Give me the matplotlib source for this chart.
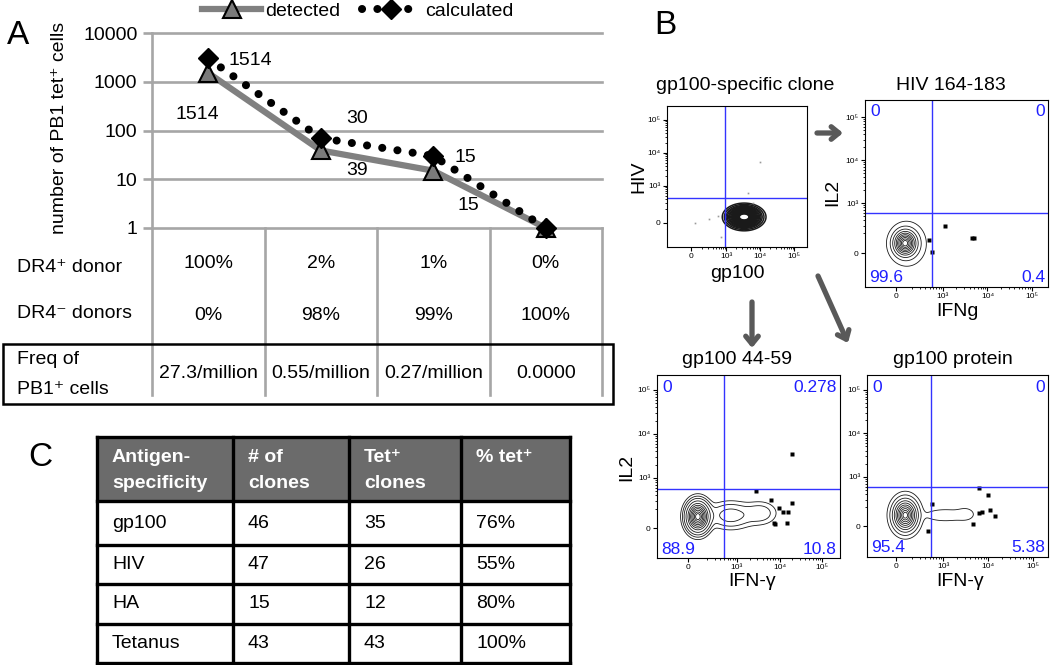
import numpy as np
import matplotlib
matplotlib.use('Agg')
import matplotlib.pyplot as plt
from matplotlib import transforms
from matplotlib.patches import Rectangle

plt.rcParams['font.family'] = ['Liberation Sans', 'DejaVu Sans']

# ---------------- Panel A data ----------------
categories = ['group 1', 'group 2', 'group 3', 'group 4']
detected = [1514, 39, 15, 1]
calculated = [3000, 70, 30, 1]
detected_labels = ['1514', '39', '15']
calculated_labels = ['1514', '30', '15']
y_ticks = [1, 10, 100, 1000, 10000]
y_ticklabels = ['1', '10', '100', '1000', '10000']
dr4_pos = ['100%', '2%', '1%', '0%']
dr4_neg = ['0%', '98%', '99%', '100%']
freq_pb1 = ['27.3/million', '0.55/million', '0.27/million', '0.0000']

# ---------------- Panel B data ----------------
flow_titles = ['gp100-specific clone', 'HIV 164-183', 'gp100 44-59', 'gp100 protein']
flow_xlabels = ['gp100', 'IFNg', 'IFN-γ', 'IFN-γ']
flow_ylabels = ['HIV', 'IL2', 'IL2', 'IL2']
quad_ul = [None, '0', '0', '0']
quad_ur = [None, '0', '0.278', '0']
quad_ll = [None, '99.6', '88.9', '95.4']
quad_lr = [None, '0.4', '10.8', '5.38']
gate_x = [2.97, 2.75, 2.69, 2.73]
gate_y = [2.64, 2.77, 2.75, 2.77]
zero_x = [1.97, 1.95, 1.85, 1.96]
zero_y = [1.88, 1.84, 1.86, 1.87]
flow_xlim = [(1.26, 5.38), (1.25, 5.36), (1.12, 5.42), (1.31, 5.33)]
flow_ylim = [(1.15, 5.42), (1.05, 5.40), (1.18, 5.34), (1.16, 5.34)]
# populations: (centre x, centre y, spread x, spread y, weight)
pop_clone = [(3.53, 2.06, 0.23, 0.15, 1.0)]
pop_hiv = [(2.15, 2.07, 0.13, 0.15, 1.0), (2.2, 2.05, 0.2, 0.24, 0.12)]
pop_pep = [(2.08, 2.12, 0.14, 0.18, 1.0), (2.85, 2.15, 0.3, 0.17, 0.1), (3.55, 2.2, 0.22, 0.15, 0.06)]
pop_prot = [(2.16, 2.12, 0.14, 0.19, 1.0), (3.05, 2.12, 0.3, 0.09, 0.04), (3.5, 2.15, 0.13, 0.1, 0.025)]
levels_clone = [0.02, 0.04, 0.07, 0.1, 0.14, 0.18, 0.23, 0.28, 0.33, 0.38, 0.43, 0.48,
                0.53, 0.58, 0.63, 0.68, 0.73, 0.78, 0.83]
levels_hiv = [0.012, 0.05, 0.12, 0.22, 0.33, 0.45, 0.57, 0.7, 0.82, 0.92]
levels_pep = [0.015, 0.035, 0.07, 0.14, 0.25, 0.36, 0.48, 0.6, 0.72, 0.84, 0.93]
levels_prot = [0.015, 0.05, 0.12, 0.22, 0.34, 0.47, 0.6, 0.73, 0.85, 0.94]
ev_clone_x = [3.99, 3.65, 3.79, 2.5, 2.09, 2.85, 2.75]
ev_clone_y = [3.73, 2.79, 2.48, 2.0, 1.88, 1.45, 2.1]
ev_hiv_x = [3.04, 3.65, 3.70, 2.69, 2.75]
ev_hiv_y = [2.47, 2.19, 2.19, 2.14, 1.86]
ev_pep_x = [3.45, 3.8, 3.99, 4.08, 4.2, 4.29, 3.87, 3.89, 4.18, 4.29]
ev_pep_y = [2.7, 2.5, 2.32, 2.23, 2.23, 2.43, 1.98, 1.96, 1.98, 3.55]
ev_prot_x = [3.8, 4.0, 3.87, 3.8, 4.04, 4.16, 3.67, 2.76, 2.67]
ev_prot_y = [2.75, 2.59, 2.2, 2.17, 2.24, 2.1, 1.92, 2.38, 1.76]

# ---------------- Panel C data ----------------
c_headers = [['Antigen-', 'specificity'], ['# of', 'clones'], ['Tet⁺', 'clones'], ['% tet⁺', '']]
antigens = ['gp100', 'HIV', 'HA', 'Tetanus']
n_clones = [46, 47, 15, 43]
tet_clones = [35, 26, 12, 43]
pct_tet = ['76%', '55%', '80%', '100%']

W, H = 1050, 665
fig = plt.figure(figsize=(W / 100, H / 100), dpi=100)
fig.patch.set_facecolor('white')

ov = fig.add_axes([0, 0, 1, 1])
ov.set_xlim(0, W)
ov.set_ylim(H, 0)
ov.axis('off')


def pax(l, t, r, b):
    return fig.add_axes([l / W, 1 - b / H, (r - l) / W, (b - t) / H])


GREY = '#a6a6a6'
FS = 14

# ---------------- Panel A ----------------
axA = pax(152, 33, 602, 228)
axA.set_xlim(0, 4)
axA.set_yscale('log')
axA.set_ylim(1, 10000)
for s in axA.spines.values():
    s.set_visible(False)
axA.set_facecolor('none')
for yv in y_ticks:
    axA.axhline(yv, color=GREY, lw=1.9, clip_on=False, zorder=1)
axA.set_yticks(y_ticks)
axA.set_yticklabels(y_ticklabels)
axA.yaxis.set_minor_locator(matplotlib.ticker.NullLocator())
axA.tick_params(axis='y', length=6.5, width=1.9, color=GREY, labelsize=FS, pad=4)
axA.set_xticks([])
xpos = np.arange(len(categories)) + 0.5
l_det, = axA.plot(xpos, detected, color='#808080', lw=4.5, marker='^', ms=13,
                  mfc='#7a7a7a', mec='black', mew=1.5, clip_on=False, zorder=3)
l_cal, = axA.plot(xpos, calculated, color='black', lw=5.8, ls=(0, (0.01, 1.9)),
                  dash_capstyle='round', marker='D', ms=10, mfc='black', mec='black',
                  clip_on=False, zorder=4)
det_off = [(-11, -42), (36, -20), (35, -35)]
cal_off = [(42, -2), (36, 20), (32, -2)]
for i, t in enumerate(detected_labels):
    axA.annotate(t, (xpos[i], detected[i]), xytext=det_off[i], textcoords='offset pixels',
                 ha='center', va='center', fontsize=FS)
for i, t in enumerate(calculated_labels):
    axA.annotate(t, (xpos[i], calculated[i]), xytext=cal_off[i], textcoords='offset pixels',
                 ha='center', va='center', fontsize=FS)
fig.legend([l_det, l_cal], ['detected', 'calculated'], loc='center',
           bbox_to_anchor=(358 / W, 1 - 11 / H), ncol=2, frameon=False, fontsize=FS,
           handlelength=3.0, handletextpad=0.25, columnspacing=1.1, numpoints=1,
           borderaxespad=0, borderpad=0)

ov.text(60, 128, 'number of PB1 tet⁺ cells', rotation=90, ha='center', va='center', fontsize=FS)
ov.text(18, 36, 'A', fontsize=24, ha='center', va='center')

# table grid lines of panel A
ov.plot([152, 152], [33, 395], color=GREY, lw=1.9, zorder=1)
for xl in [265, 377, 490, 602]:
    ov.plot([xl, xl], [228, 395], color=GREY, lw=1.9, zorder=1)
ov.add_patch(Rectangle((3, 344), 610, 60, fill=False, ec='black', lw=1.8, zorder=2))
trA = transforms.blended_transform_factory(axA.transData, ov.transData)
for i in range(len(categories)):
    ov.text(xpos[i], 263, dr4_pos[i], transform=trA, ha='center', va='center', fontsize=FS)
    ov.text(xpos[i], 316, dr4_neg[i], transform=trA, ha='center', va='center', fontsize=FS)
    ov.text(xpos[i], 373, freq_pb1[i], transform=trA, ha='center', va='center', fontsize=FS)
ov.text(17, 268, 'DR4⁺ donor', ha='left', va='center', fontsize=FS)
ov.text(17, 313, 'DR4⁻ donors', ha='left', va='center', fontsize=FS)
ov.text(17, 360, 'Freq of', ha='left', va='center', fontsize=FS)
ov.text(17, 390, 'PB1⁺ cells', ha='left', va='center', fontsize=FS)

# ---------------- Panel B ----------------
ov.text(665, 25, 'B', fontsize=24, ha='center', va='center')
boxes = [(667, 106, 807, 247), (865, 100, 1048, 287), (657, 375, 840, 558), (867, 375, 1048, 557)]
title_pos = [(745, 86), (951, 85), (737, 360), (953, 360)]
xlab_pos = [(737, 273), (957, 312), (752, 582), (960, 582)]
ylab_pos = [(639, 177), (833, 192), (627, 467), None]
pops = [pop_clone, pop_hiv, pop_pep, pop_prot]
levs = [levels_clone, levels_hiv, levels_pep, levels_prot]
evx = [ev_clone_x, ev_hiv_x, ev_pep_x, ev_prot_x]
evy = [ev_clone_y, ev_hiv_y, ev_pep_y, ev_prot_y]
BLUE = '#1f1fff'
for k in range(4):
    ax = pax(*boxes[k])
    ax.set_xlim(*flow_xlim[k])
    ax.set_ylim(*flow_ylim[k])
    gx = np.linspace(flow_xlim[k][0], flow_xlim[k][1], 320)
    gy = np.linspace(flow_ylim[k][0], flow_ylim[k][1], 320)
    X, Y = np.meshgrid(gx, gy)
    Z = np.zeros_like(X)
    for (cx, cy, sx, sy, w) in pops[k]:
        Z += w * np.exp(-((X - cx) ** 2 / (2 * sx ** 2) + (Y - cy) ** 2 / (2 * sy ** 2)))
    Z /= Z.max()
    ax.contour(X, Y, Z, levels=levs[k], colors='#1a1a1a',
               linewidths=1.1 if k == 0 else 0.6)
    if k == 0:
        ax.plot(evx[k], evy[k], 's', ms=1.2, color='#999999', mec='none')
    else:
        ax.plot(evx[k], evy[k], 's', ms=2.4, color='black', mec='none')
    ax.axvline(gate_x[k], color='#3333ff', lw=1.0)
    ax.axhline(gate_y[k], color='#3333ff', lw=1.0)
    for s in ax.spines.values():
        s.set_linewidth(0.8)
    ax.set_xticks([zero_x[k], 3, 4, 5])
    ax.set_xticklabels(['0', '10³', '10⁴', '10⁵'])
    ax.set_yticks([zero_y[k], 3, 4, 5])
    ax.set_yticklabels(['0', '10³', '10⁴', '10⁵'])
    mx = [d + np.log10(m) for d in (2, 3, 4) for m in range(2, 10)]
    ax.set_xticks([v for v in mx if v > zero_x[k] + 0.25 and v < flow_xlim[k][1]], minor=True)
    ax.set_yticks([v for v in mx if v > zero_y[k] + 0.25 and v < flow_ylim[k][1]], minor=True)
    ax.tick_params(which='major', length=3, width=0.8, labelsize=6, pad=1.5)
    ax.tick_params(which='minor', length=1.6, width=0.6)
    ov.text(*title_pos[k], flow_titles[k], ha='center', va='center', fontsize=14)
    ov.text(*xlab_pos[k], flow_xlabels[k], ha='center', va='center', fontsize=14)
    if ylab_pos[k] is not None:
        ov.text(*ylab_pos[k], flow_ylabels[k], ha='center', va='center', fontsize=14, rotation=90)
    l, t, r, b = boxes[k]
    if quad_ul[k] is not None:
        kw = dict(color=BLUE, fontsize=12.5, va='center', transform=ov.transData,
                  clip_on=False, zorder=6)
        ax.text(l + 5, t + 12, quad_ul[k], ha='left', **kw)
        ax.text(r - 3, t + 12, quad_ur[k], ha='right', **kw)
        ax.text(l + 4, b - 9, quad_ll[k], ha='left', **kw)
        ax.text(r - 3, b - 9, quad_lr[k], ha='right', **kw)

arrow_kw = dict(arrowstyle='->,head_length=0.55,head_width=0.45', lw=3.8, color='#595959',
                shrinkA=0, shrinkB=0)
ov.annotate('', xy=(843, 133), xytext=(817, 133), arrowprops=arrow_kw)
ov.annotate('', xy=(752, 348), xytext=(752, 302), arrowprops=arrow_kw)
ov.annotate('', xy=(848, 343), xytext=(818, 276), arrowprops=arrow_kw)

# ---------------- Panel C ----------------
ov.text(40, 458, 'C', fontsize=24, ha='center', va='center')
cols = [97, 233, 349, 461, 570]
rows = [437, 501, 545, 584, 624, 663]
ov.add_patch(Rectangle((cols[0], rows[0]), cols[-1] - cols[0], rows[1] - rows[0],
                       fc='#6b6b6b', ec='none', zorder=1))
for xc in cols:
    ov.plot([xc, xc], [rows[0], rows[-1]], color='black', lw=2.4, zorder=3,
            solid_capstyle='projecting')
for yr in rows:
    ov.plot([cols[0], cols[-1]], [yr, yr], color='black', lw=2.4, zorder=3,
            solid_capstyle='projecting')
for j, hd in enumerate(c_headers):
    ov.text(cols[j] + 15, 458, hd[0], color='white', fontweight='bold', fontsize=14,
            ha='left', va='center', zorder=4)
    if hd[1]:
        ov.text(cols[j] + 15, 483, hd[1], color='white', fontweight='bold', fontsize=14,
                ha='left', va='center', zorder=4)
for i in range(len(antigens)):
    yc = (rows[i + 1] + rows[i + 2]) / 2
    vals = [antigens[i], str(n_clones[i]), str(tet_clones[i]), pct_tet[i]]
    for j, v in enumerate(vals):
        ov.text(cols[j] + 15, yc, v, fontsize=14, ha='left', va='center', zorder=4)

fig.savefig('out.png', dpi=100)
